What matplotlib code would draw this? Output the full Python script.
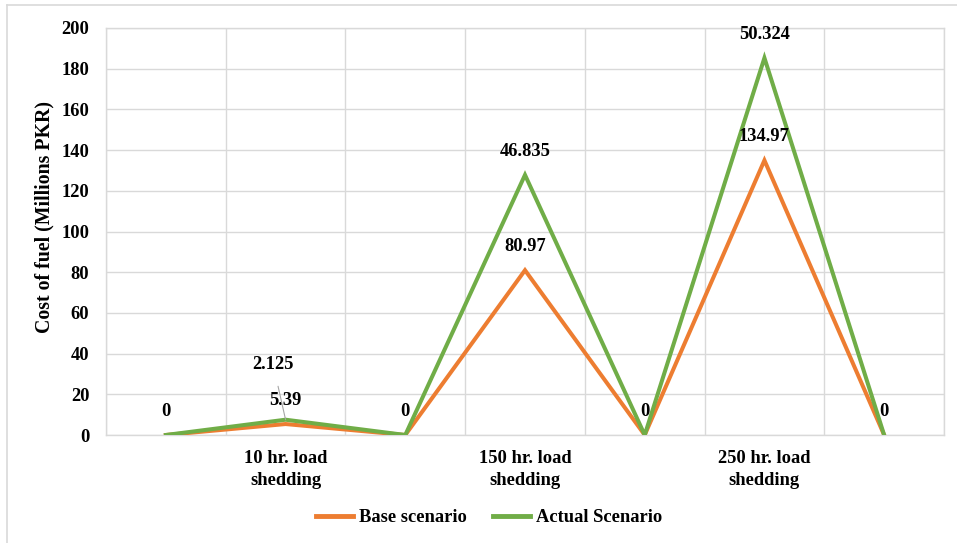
import numpy as np
import matplotlib
matplotlib.use("Agg")
import matplotlib.pyplot as plt
from matplotlib.lines import Line2D

# Fuel cost per period (millions PKR); Actual Scenario is stacked on Base scenario
categories = ["", "10 hr. load\nshedding", "", "150 hr. load\nshedding", "",
              "250 hr. load\nshedding", ""]
base = [0, 5.39, 0, 80.97, 0, 134.97, 0]
actual = [0, 2.125, 0, 46.835, 0, 50.324, 0]
y_ticks = [0, 20, 40, 60, 80, 100, 120, 140, 160, 180, 200]

plt.rcParams["font.family"] = ["Liberation Serif", "DejaVu Serif"]
plt.rcParams["font.weight"] = "bold"

ORANGE = "#ED7D31"
GREEN = "#70AD47"
GRID = "#D9D9D9"
FS = 13.3

fig = plt.figure(figsize=(9.57, 5.43), dpi=100)
ax = fig.add_axes([106 / 957, 1 - 435 / 543, 838 / 957, 407 / 543])

x = np.arange(len(categories))
stacked = np.add(base, actual)

ax.plot(x, base, color=ORANGE, lw=2.9, solid_joinstyle="miter", zorder=3,
        label="Base scenario")
ax.plot(x, stacked, color=GREEN, lw=2.9, solid_joinstyle="miter", zorder=4,
        label="Actual Scenario")

# data labels
for xi, b in zip(x, base):
    if b != 0:
        ax.annotate(f"{b:g}", (xi, b), xytext=(0, 17), textcoords="offset points",
                    ha="center", va="center", fontsize=FS, fontweight="bold", zorder=6)
for xi, a, s in zip(x, actual, stacked):
    if xi == 1:
        ax.annotate(f"{a:g}", (xi, s), xytext=(-9, 40), textcoords="offset points",
                    ha="center", va="center", fontsize=FS, fontweight="bold", zorder=6,
                    arrowprops=dict(arrowstyle="-", color="#A6A6A6", lw=0.8,
                                    shrinkA=8, shrinkB=0))
    else:
        ax.annotate(f"{a:g}", (xi, s), xytext=(0, 17), textcoords="offset points",
                    ha="center", va="center", fontsize=FS, fontweight="bold", zorder=6)

ax.set_xlim(-0.5, len(categories) - 0.5)
ax.set_ylim(0, 200)
ax.set_yticks(y_ticks)
ax.set_xticks(x)
ax.set_xticklabels(categories, fontsize=FS, fontweight="bold", linespacing=1.35)
ax.set_xticks(np.arange(-0.5, len(categories), 1.0), minor=True)
ax.tick_params(axis="both", which="both", length=0)
ax.tick_params(axis="y", labelsize=FS, pad=12)
ax.tick_params(axis="x", pad=11)
for lbl in ax.get_yticklabels():
    lbl.set_fontweight("bold")

ax.grid(True, axis="y", which="major", color=GRID, lw=1.0)
ax.grid(True, axis="x", which="minor", color=GRID, lw=1.0)
ax.set_axisbelow(True)
for sp in ax.spines.values():
    sp.set_color(GRID)
    sp.set_linewidth(1.0)

ax.set_ylabel("Cost of fuel (Millions PKR)", fontsize=14.3, fontweight="bold")
ax.yaxis.set_label_coords(-52 / 838, (435 - 217) / 407)

leg = fig.legend(loc="center", bbox_to_anchor=(489 / 957, 1 - 518 / 543), ncol=2,
                 frameon=False, handlelength=2.0, handletextpad=0.3,
                 columnspacing=1.45, prop={"weight": "bold", "size": FS})
for h in leg.get_lines():
    h.set_linewidth(3.5)

# outer chart border (left and top edges)
fig.add_artist(Line2D([6.5 / 957, 6.5 / 957], [0, 1 - 5 / 543], color=GRID, lw=1.2,
                      transform=fig.transFigure))
fig.add_artist(Line2D([6.5 / 957, 1], [1 - 5 / 543, 1 - 5 / 543], color=GRID, lw=1.2,
                      transform=fig.transFigure))

fig.savefig("out.png", dpi=100)
